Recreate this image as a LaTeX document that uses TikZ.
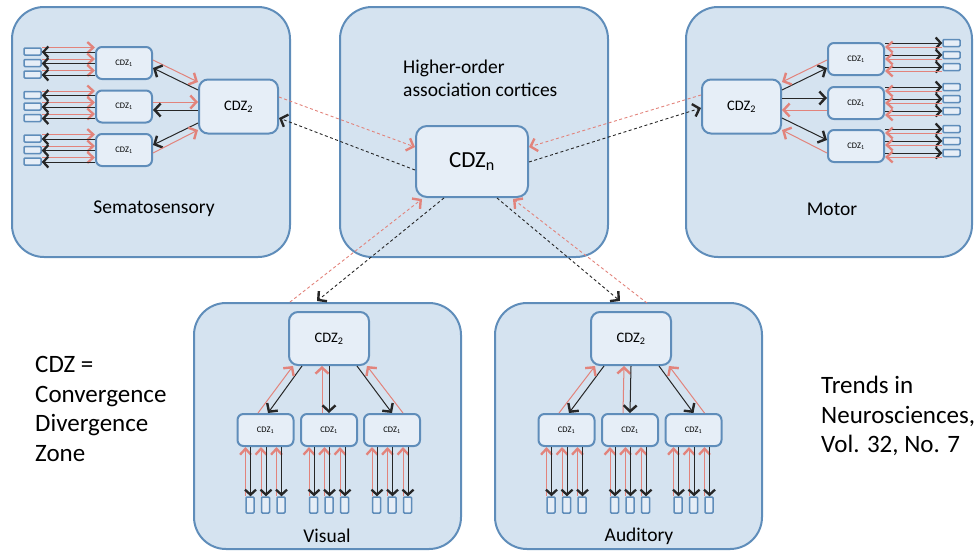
\documentclass[tikz,border=0pt]{standalone}
\usepackage{fontspec}
\setmainfont{Carlito}
\usetikzlibrary{arrows.meta,calc}
\definecolor{panelc}{HTML}{D5E3F0}
\definecolor{bordc}{HTML}{5F8DBA}
\definecolor{boxc}{HTML}{E6EEF7}
\definecolor{redc}{HTML}{E2837B}
\begin{document}
\begin{tikzpicture}[x=1pt,y=-1pt,
  panel/.style={draw=bordc,fill=panelc,line width=2pt,rounded corners=32pt,inner sep=0pt},
  cbox/.style={draw=bordc,fill=boxc,line width=2pt,rounded corners=6pt,inner sep=0pt,
    minimum width=56pt,minimum height=32pt,font=\fontsize{8.5}{9}\selectfont},
  zbox/.style={draw=bordc,fill=boxc,line width=2pt,rounded corners=9pt,inner sep=0pt,
    minimum width=79pt,minimum height=54pt,font=\fontsize{14.5}{16}\selectfont},
  sbox/.style={draw=bordc,fill=boxc,line width=1.5pt,rounded corners=1pt,inner sep=0pt},
  lbl/.style={font=\fontsize{19.5}{22}\selectfont,inner sep=0pt},
  big/.style={font=\fontsize{25}{29}\selectfont,inner sep=0pt,anchor=base west},
  rarr/.style={draw=redc,line width=1pt,-{Straight Barb[length=6pt,width=13pt,line width=2.4pt]}},
  barr/.style={draw=black!85,line width=1pt,-{Straight Barb[length=6pt,width=13pt,line width=2.4pt]}},
  rarrs/.style={draw=redc,line width=1pt,-{Straight Barb[length=6pt,width=11pt,line width=2.3pt]}},
  barrs/.style={draw=black!85,line width=1pt,-{Straight Barb[length=5pt,width=11pt,line width=2.3pt]}},
  rdash/.style={rarr,line width=0.9pt,dash pattern=on 3pt off 2.5pt},
  bdash/.style={barr,line width=0.9pt,dash pattern=on 3pt off 2.5pt}
]
\useasboundingbox (0,0) rectangle (976,552);
% panels
\node[panel,minimum width=278pt,minimum height=250pt] (P1) at (151,132) {};
\node[panel,minimum width=268pt,minimum height=250pt] (P0) at (474,132) {};
\node[panel,minimum width=286pt,minimum height=250pt] (P2) at (829,132) {};
\node[panel,minimum width=267pt,minimum height=246pt] (P3) at (327.5,426) {};
\node[panel,minimum width=267pt,minimum height=246pt] (P4) at (628.5,426) {};
% panel labels
\node[lbl] (t1) at (154,209) {Sematosensory};
\node[lbl] (t2) at (832,209) {Motor};
\node[lbl] (t3) at (327,536) {Visual};
\node[lbl] (t4) at (639,536) {Auditory};
\node[lbl,anchor=base west] (h1) at (403,73) {Higher-order};
\node[lbl,anchor=base west] (h2) at (403,96) {association cortices};
% side texts
\node[big] (k1) at (35,372) {CDZ =};
\node[big] (k2) at (35,402) {Convergence};
\node[big] (k3) at (35,431) {Divergence};
\node[big] (k4) at (35,461) {Zone};
\node[big] (r1) at (821,393.5) {Trends in};
\node[big] (r2) at (821,423.5) {Neurosciences,};
\node[big] (r3) at (821,452.5) {Vol. 32, No. 7};
% CDZn
\node[zbox,minimum width=112pt,minimum height=71pt,rounded corners=11pt,font=\fontsize{23}{26}\selectfont] (N) at (472,161.5) {CDZ\textsubscript{n}};
% ---- Sematosensory
\node[zbox] (LZ) at (238.5,106.5) {CDZ\textsubscript{2}};
\foreach \g/\cy in {1/63,2/106.5,3/150}{
  \node[cbox] (L\g) at (124,\cy) {CDZ\textsubscript{1}};
  \foreach \k/\dy in {1/-11.5,2/0,3/11.5}{
    \node[sbox,minimum width=17pt,minimum height=7pt] (Ls\g\k) at (32.5,\cy+\dy) {};
    \draw[rarrs] ($(Ls\g\k.east)+(0,-4)$) -- ($(L\g.west|-Ls\g\k.east)+(0,-4)$);
    \draw[barrs] ($(L\g.west|-Ls\g\k.east)+(0,0.5)$) -- ($(Ls\g\k.east)+(0,0.5)$);
  }
}
\draw[rarr] ($(L1.east)+(0,-3)$) -- ($(LZ.west)+(0,-24.5)$);
\draw[barr] ($(LZ.west)+(0,-16.5)$) -- ($(L1.east)+(0,5)$);
\draw[rarr] ($(L2.east)+(0,-4.5)$) -- ($(LZ.west)+(0,-4.5)$);
\draw[barr] ($(LZ.west)+(0,3.5)$) -- ($(L2.east)+(0,3.5)$);
\draw[barr] ($(LZ.west)+(0,16.5)$) -- ($(L3.east)+(0,-5)$);
\draw[rarr] ($(L3.east)+(0,3)$) -- ($(LZ.west)+(0,23.5)$);
% ---- Motor
\node[zbox] (MZ) at (741.5,106.5) {CDZ\textsubscript{2}};
\foreach \g/\cy/\sy in {1/59/55,2/103/99,3/146/141}{
  \node[cbox] (M\g) at (856,\cy) {CDZ\textsubscript{1}};
  \foreach \k/\dy in {1/-12,2/0,3/12}{
    \node[sbox,minimum width=17pt,minimum height=7pt] (Ms\g\k) at (951.5,\sy+\dy) {};
    \draw[barrs] ($(M\g.east|-Ms\g\k.west)+(0,0)$) -- ($(Ms\g\k.west)+(0,0)$);
    \draw[rarrs] ($(Ms\g\k.west)+(0,4)$) -- ($(M\g.east|-Ms\g\k.west)+(0,4)$);
  }
}
\draw[barr] ($(MZ.east)+(0,-16.5)$) -- ($(M1.west)+(0,9)$);
\draw[rarr] ($(M1.west)+(0,1)$) -- ($(MZ.east)+(0,-24.5)$);
\draw[barr] ($(MZ.east)+(0,-8.5)$) -- ($(M2.west)+(0,-5)$);
\draw[rarr] ($(M2.west)+(0,7)$) -- ($(MZ.east)+(0,3.5)$);
\draw[barr] ($(MZ.east)+(0,11.5)$) -- ($(M3.west)+(0,-6)$);
\draw[rarr] ($(M3.west)+(0,7)$) -- ($(MZ.east)+(0,23.5)$);
% ---- Visual and Auditory
\foreach \pn/\cx/\xa/\xb/\xc in {V/329/265.5/329/392, A/631/566.5/630/693.5}{
  \node[zbox,minimum width=80pt,minimum height=53pt] (\pn Z) at (\cx,338.5) {CDZ\textsubscript{2}};
  \foreach \g/\xx in {1/\xa,2/\xb,3/\xc}{
    \node[cbox] (\pn\g) at (\xx,430) {CDZ\textsubscript{1}};
    \foreach \k/\dx in {1/-15.5,2/0,3/15.5}{
      \node[sbox,minimum width=8pt,minimum height=16pt] (\pn s\g\k) at (\xx+\dx,505) {};
      \draw[rarrs] ($(\pn s\g\k.north)+(-4.5,0)$) -- ($(\pn\g.south -| \pn s\g\k.north)+(-4.5,0)$);
      \draw[barrs] ($(\pn\g.south -| \pn s\g\k.north)+(0.5,0)$) -- ($(\pn s\g\k.north)+(0.5,0)$);
    }
  }
  \draw[barr] ($(\pn Z.south)+(-27,0)$) -- ($(\pn 1.north)+(2.5,0)$);
  \draw[rarr] ($(\pn 1.north)+(-7.5,0)$) -- ($(\pn Z.south)+(-36,0)$);
  \draw[rarr] ($(\pn 2.north)+(-7,0)$) -- ($(\pn Z.south)+(-7,0)$);
  \draw[barr] ($(\pn Z.south)+(0,0)$) -- ($(\pn 2.north)+(0,0)$);
  \draw[barr] ($(\pn Z.south)+(28,0)$) -- ($(\pn 3.north)+(0,0)$);
  \draw[rarr] ($(\pn 3.north)+(11,0)$) -- ($(\pn Z.south)+(38,0)$);
}
% ---- dashed long-range links
\draw[rdash] ($(LZ.east)+(0,-9.5)$) -- ($(N.west)+(0,-14.5)$);
\draw[bdash] ($(N.west)+(0,8.5)$) -- ($(LZ.east)+(0,11.5)$);
\draw[rdash] ($(MZ.west)+(0,-11.5)$) -- ($(N.east)+(0,-14.5)$);
\draw[bdash] ($(N.east)+(0,0.5)$) -- ($(MZ.west)+(0,1.5)$);
\draw[bdash] ($(N.south)+(-28,0)$) -- ($(P3.north)+(-10.5,-1)$);
\draw[rdash] ($(P3.north)+(-37.5,0)$) -- ($(N.south)+(-50,1)$);
\draw[bdash] ($(N.south)+(25,0)$) -- ($(P4.north)+(-8.5,-1)$);
\draw[rdash] ($(P4.north)+(18.5,1)$) -- ($(N.south)+(41,1)$);
\end{tikzpicture}
\end{document}
